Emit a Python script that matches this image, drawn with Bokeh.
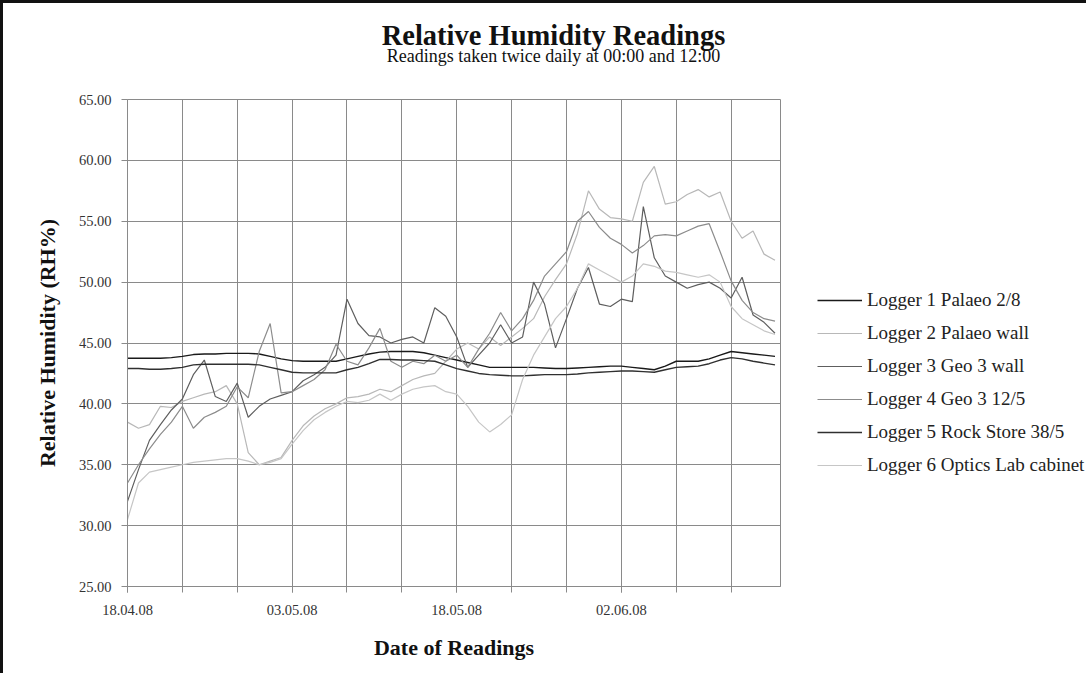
import pandas as pd
from bokeh.plotting import figure
from bokeh.layouts import column, row
from bokeh.models import (Range1d, FixedTicker, DatetimeTickFormatter, PrintfTickFormatter,
                          Legend, LegendItem)
from bokeh.core.properties import value
from bokeh.embed import file_html
from bokeh.resources import INLINE

# ---------------- data (daily readings) ----------------
start = "2008-04-18"
n_days = 60
dates = pd.date_range(start, periods=n_days, freq="D")

title_text = "Relative Humidity Readings"
subtitle_text = "Readings taken twice daily at 00:00 and 12:00"

series_names = ["Logger 1 Palaeo 2/8", "Logger 2 Palaeo wall", "Logger 3 Geo 3 wall",
                "Logger 4 Geo 3 12/5", "Logger 5 Rock Store 38/5", "Logger 6 Optics Lab cabinet"]

logger1 = [43.75, 43.75, 43.75, 43.75, 43.8, 43.9, 44.05, 44.1, 44.1, 44.15,
           44.15, 44.15, 44.1, 43.9, 43.7, 43.55, 43.5, 43.5, 43.5, 43.5,
           43.7, 43.9, 44.1, 44.25, 44.3, 44.3, 44.3, 44.2, 44.0, 43.8,
           43.6, 43.4, 43.2, 43.0, 43.0, 43.0, 43.0, 43.0, 42.95, 42.9,
           42.9, 42.95, 43.0, 43.05, 43.1, 43.1, 43.0, 42.9, 42.8, 43.1,
           43.5, 43.5, 43.5, 43.7, 44.0, 44.3, 44.2, 44.1, 44.0, 43.9]

logger5 = [42.9, 42.9, 42.85, 42.85, 42.9, 43.0, 43.2, 43.25, 43.25, 43.25,
           43.25, 43.25, 43.2, 43.0, 42.8, 42.6, 42.55, 42.55, 42.55, 42.55,
           42.8, 43.0, 43.3, 43.65, 43.65, 43.6, 43.6, 43.55, 43.5, 43.2,
           42.9, 42.7, 42.5, 42.4, 42.35, 42.3, 42.3, 42.35, 42.4, 42.4,
           42.4, 42.45, 42.55, 42.6, 42.65, 42.7, 42.7, 42.65, 42.6, 42.8,
           43.0, 43.05, 43.1, 43.3, 43.6, 43.8, 43.7, 43.5, 43.35, 43.2]

logger2 = [38.5, 38.0, 38.3, 39.8, 39.7, 40.2, 40.5, 40.8, 41.0, 41.5,
           40.0, 36.0, 35.0, 35.3, 35.6, 37.0, 38.2, 39.0, 39.6, 40.0,
           40.5, 40.6, 40.8, 41.2, 41.0, 41.5, 42.0, 42.3, 42.5, 43.5,
           44.5, 45.0, 44.5, 45.5, 44.8, 45.5, 46.2, 47.0, 48.8, 50.2,
           51.5, 54.0, 57.5, 56.0, 55.3, 55.2, 55.0, 58.2, 59.5, 56.4,
           56.6, 57.2, 57.6, 57.0, 57.4, 55.0, 53.6, 54.2, 52.3, 51.8]

logger3 = [32.0, 34.6, 37.0, 38.3, 39.5, 40.4, 42.4, 43.6, 40.6, 40.2,
           41.7, 38.9, 39.8, 40.4, 40.7, 41.0, 41.9, 42.4, 43.0, 44.0,
           48.6, 46.6, 45.6, 45.5, 45.0, 45.3, 45.5, 45.0, 47.9, 47.2,
           45.5, 43.0, 44.0, 45.0, 46.5, 45.0, 45.5, 50.0, 48.2, 44.6,
           47.0, 49.5, 51.2, 48.2, 48.0, 48.6, 48.4, 56.2, 52.0, 50.5,
           50.0, 49.5, 49.8, 50.0, 49.5, 48.7, 50.4, 47.3, 46.7, 45.8]

logger4 = [33.5, 35.0, 36.3, 37.5, 38.5, 39.8, 38.0, 38.9, 39.3, 39.8,
           41.4, 40.5, 44.3, 46.6, 40.9, 41.0, 41.5, 42.0, 42.8, 44.9,
           43.5, 43.2, 44.6, 46.2, 43.5, 43.0, 43.5, 43.3, 44.0, 43.5,
           44.0, 43.0, 44.5, 45.8, 47.5, 46.0, 47.0, 48.5, 50.5, 51.5,
           52.5, 55.0, 55.8, 54.5, 53.6, 53.1, 52.4, 53.0, 53.8, 53.9,
           53.8, 54.2, 54.6, 54.8, 52.5, 50.1, 48.5, 47.5, 47.0, 46.8]

logger6 = [30.5, 33.5, 34.4, 34.6, 34.8, 35.0, 35.2, 35.3, 35.4, 35.5,
           35.5, 35.3, 35.0, 35.2, 35.5, 36.7, 37.8, 38.7, 39.3, 39.8,
           40.2, 40.1, 40.3, 40.8, 40.3, 40.8, 41.2, 41.4, 41.5, 41.0,
           40.8, 39.8, 38.5, 37.7, 38.3, 39.1, 42.0, 44.0, 45.5, 47.0,
           48.0, 49.5, 51.5, 51.0, 50.5, 50.0, 50.5, 51.5, 51.3, 50.9,
           50.8, 50.6, 50.4, 50.6, 50.0, 48.0, 47.0, 46.5, 46.0, 45.7]

y_ticks = [25, 30, 35, 40, 45, 50, 55, 60, 65]
label_dates = ["2008-04-18", "2008-05-03", "2008-05-18", "2008-06-02"]

# ---------------- styling ----------------
FONT = "Liberation Serif"
colors = ["#1a1a1a", "#b8b8b8", "#5e5e5e", "#8c8c8c", "#303030", "#c6c6c6"]
widths = [1.4, 1.2, 1.2, 1.2, 1.4, 1.2]
series = [logger1, logger2, logger3, logger4, logger5, logger6]

TOTAL_W = 1083
TOP_H = 70
ROW_H = 600
PLOT_W = 780


def ms(ts):
    return pd.Timestamp(ts).value // 10**6


def bare(fig):
    fig.grid.visible = False
    fig.outline_line_color = None
    fig.background_fill_color = None
    fig.border_fill_color = "white"
    return fig


# ---------------- title strip ----------------
top = bare(figure(width=TOTAL_W, height=TOP_H, x_range=Range1d(0, TOTAL_W), y_range=Range1d(0, TOP_H),
                  x_axis_location=None, y_axis_location=None, output_backend="svg",
                  toolbar_location=None, min_border=0))
top.text(x=[550], y=[38], text=[title_text], text_align="center", text_baseline="alphabetic",
         text_font=value(FONT), text_font_size="28.5px", text_font_style="bold", text_color="#111111")
top.text(x=[550], y=[18], text=[subtitle_text], text_align="center", text_baseline="alphabetic",
         text_font=value(FONT), text_font_size="18px", text_color="#111111")

# ---------------- main chart ----------------
x_start = pd.Timestamp(start)
x_end = x_start + pd.Timedelta(days=59.5)

p = figure(width=PLOT_W, height=ROW_H, x_axis_type="datetime",
           x_range=Range1d(x_start, x_end), y_range=Range1d(25, 65),
           output_backend="svg", toolbar_location=None,
           min_border_left=124, min_border_right=3, min_border_top=26, min_border_bottom=87)

grid_ticks = [ms(x_start + pd.Timedelta(days=5 * i)) for i in range(12)]
p.xaxis.ticker = FixedTicker(ticks=[ms(d) for d in label_dates], minor_ticks=grid_ticks)
p.xgrid.ticker = FixedTicker(ticks=grid_ticks)
p.xaxis.formatter = DatetimeTickFormatter(days="%d.%m.%y", months="%d.%m.%y")
p.yaxis.ticker = FixedTicker(ticks=y_ticks)
p.yaxis.formatter = PrintfTickFormatter(format="%.2f")

gray = "#8a8a8a"
for g in (p.xgrid, p.ygrid):
    g.grid_line_color = gray
    g.grid_line_width = 1
p.outline_line_color = gray
p.outline_line_width = 1

for ax in (p.xaxis, p.yaxis):
    ax.axis_line_color = gray
    ax.major_tick_line_color = gray
    ax.minor_tick_line_color = gray
    ax.major_tick_out = 6
    ax.major_tick_in = 0
    ax.minor_tick_out = 6
    ax.minor_tick_in = 0
    ax.major_label_text_font = FONT
    ax.major_label_text_font_size = "14.5px"
    ax.major_label_text_color = "#333333"
    ax.axis_label_text_font = FONT
    ax.axis_label_text_font_style = "bold"
    ax.axis_label_text_font_size = "22px"
    ax.axis_label_text_color = "#111111"

p.yaxis.minor_tick_out = 0
p.yaxis.major_label_standoff = 10
p.yaxis.axis_label = "Relative Humidity (RH%)"
p.yaxis.axis_label_standoff = 16
p.xaxis.major_label_standoff = 12
p.xaxis.axis_label = "Date of Readings"
p.xaxis.axis_label_standoff = 17

for vals, c, w in zip(series, colors, widths):
    p.line(dates, vals, line_color=c, line_width=w)

# ---------------- legend strip (same series, drawn outside its view; only the key shows) ----------------
leg_fig = bare(figure(width=TOTAL_W - PLOT_W, height=ROW_H, x_range=Range1d(0, 1), y_range=Range1d(0, 1),
                      x_axis_location=None, y_axis_location=None, output_backend="svg",
                      toolbar_location=None, min_border=0))
leg_renderers = [leg_fig.line(dates, vals, line_color=c, line_width=w)
                 for vals, c, w in zip(series, colors, widths)]

legend = Legend(items=[LegendItem(label=n, renderers=[r]) for n, r in zip(series_names, leg_renderers)],
                location=(34, 110))
legend.label_text_font = FONT
legend.label_text_font_size = "19px"
legend.label_text_color = "#222222"
legend.glyph_width = 45
legend.glyph_height = 22
legend.label_height = 22
legend.label_standoff = 5
legend.spacing = 11
legend.padding = 0
legend.margin = 0
legend.border_line_color = None
legend.background_fill_alpha = 0
leg_fig.add_layout(legend, "center")

layout = column(top, row(p, leg_fig))
layout.styles = {"border-left": "3px solid #111111", "border-top": "3px solid #111111"}

open("out.html", "w").write(file_html(layout, INLINE))
